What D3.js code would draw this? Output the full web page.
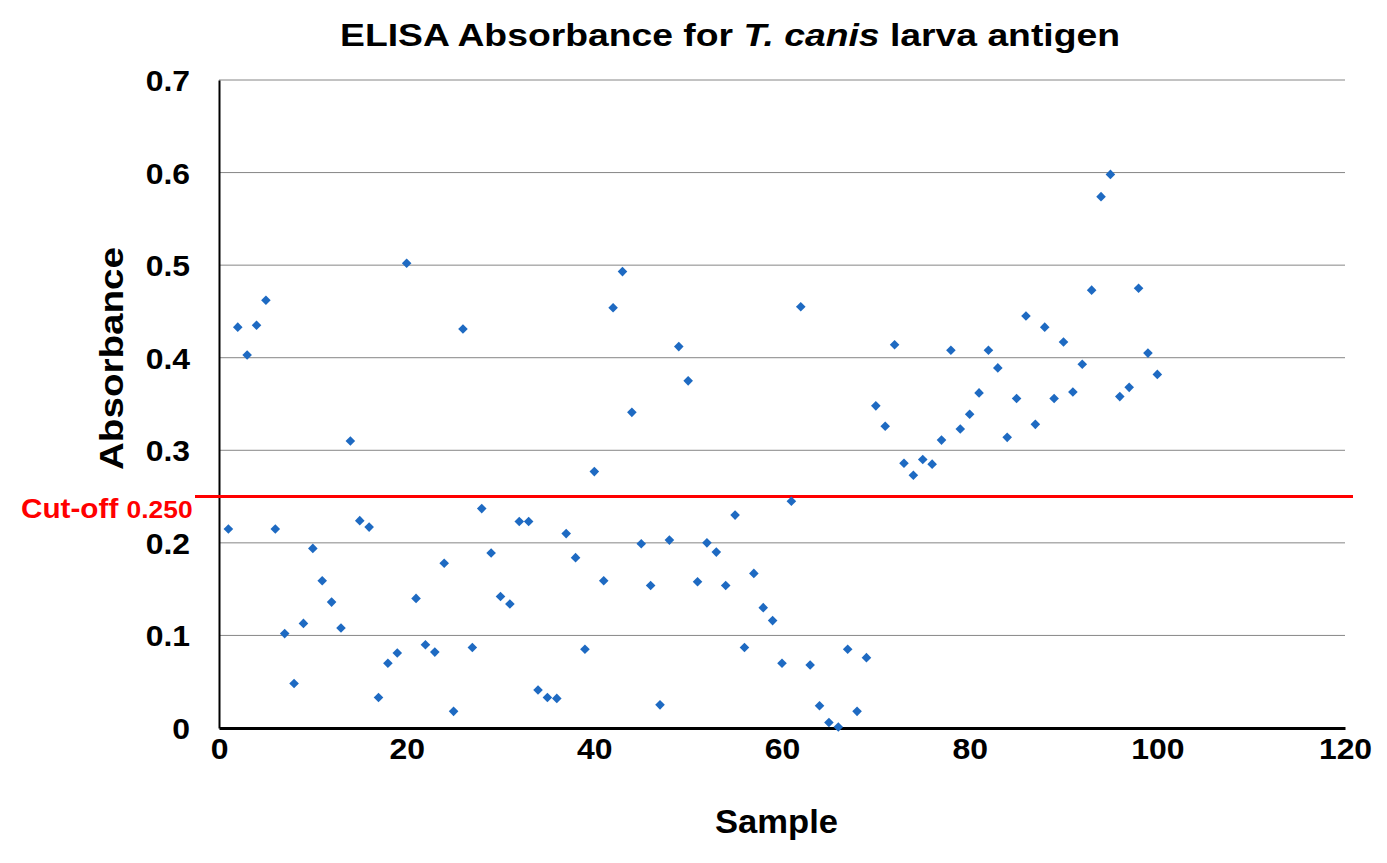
<!DOCTYPE html>
<html><head><meta charset="utf-8">
<script src="https://cdn.jsdelivr.net/npm/d3@7"></script>
<style>body{margin:0;background:#fff}svg{display:block}text{font-family:"Liberation Sans",Arial,sans-serif;font-weight:bold}</style>
</head><body>
<script>
const samples = d3.range(1, 101);
const absorbance = [
0.215,0.433,0.403,0.435,0.462,0.215,0.102,0.048,0.113,0.194,
0.159,0.136,0.108,0.310,0.224,0.217,0.033,0.070,0.081,0.502,
0.140,0.090,0.082,0.178,0.018,0.431,0.087,0.237,0.189,0.142,
0.134,0.223,0.223,0.041,0.033,0.032,0.210,0.184,0.085,0.277,
0.159,0.454,0.493,0.341,0.199,0.154,0.025,0.203,0.412,0.375,
0.158,0.200,0.190,0.154,0.230,0.087,0.167,0.130,0.116,0.070,
0.245,0.455,0.068,0.024,0.006,0.001,0.085,0.018,0.076,0.348,
0.326,0.414,0.286,0.273,0.290,0.285,0.311,0.408,0.323,0.339,
0.362,0.408,0.389,0.314,0.356,0.445,0.328,0.433,0.356,0.417,
0.363,0.393,0.473,0.574,0.598,0.358,0.368,0.475,0.405,0.382];
const xTicks = [0,20,40,60,80,100,120];
const yTicks = [0,0.1,0.2,0.3,0.4,0.5,0.6,0.7];
const yTickLabels = ["0","0.1","0.2","0.3","0.4","0.5","0.6","0.7"];
const cutoff = 0.250;

const W = 1387, H = 863;
const SX = 1.1;
const svg = d3.select("body").append("svg").attr("width", W).attr("height", H);
const x = d3.scaleLinear().domain([0,120]).range([219,1345]);
const y = d3.scaleLinear().domain([0,0.7]).range([728,80]);

// gridlines
svg.append("g").selectAll("line").data(yTicks.filter(d=>d>0)).join("line")
  .attr("x1", x(0)).attr("x2", x(120)).attr("y1", d=>y(d)).attr("y2", d=>y(d))
  .attr("stroke", "#868686").attr("stroke-width", 1);

// y axis
const yAxis = d3.axisLeft(y).tickValues(yTicks).tickSize(0).tickPadding(0)
  .tickFormat((d,i)=>yTickLabels[i]);
const gy = svg.append("g").attr("transform", `translate(${x(0)},0)`).call(yAxis);
gy.select(".domain").attr("stroke", "#000").attr("stroke-width", 2);
gy.selectAll(".tick text").attr("x", null).attr("dy", "0.36em").attr("font-size", 29).attr("fill", "#000")
  .attr("transform", `translate(-29,0) scale(${SX},1)`);

// x axis
const xAxis = d3.axisBottom(x).tickValues(xTicks).tickSize(0).tickPadding(0).tickFormat(d3.format("d"));
const gx = svg.append("g").attr("transform", `translate(0,${y(0)})`).call(xAxis);
gx.select(".domain").attr("stroke", "#000").attr("stroke-width", 3);
gx.selectAll(".tick text").attr("y", null).attr("dy", null).attr("font-size", 29).attr("fill", "#000")
  .attr("transform", `translate(0,31) scale(${SX},1)`);

// cutoff line
svg.append("line").attr("x1", 195).attr("x2", 1353).attr("y1", y(cutoff)).attr("y2", y(cutoff))
  .attr("stroke", "#ff0000").attr("stroke-width", 3);
const ct = svg.append("text").attr("transform", `translate(21,${y(cutoff)+21}) scale(${SX},1)`).attr("fill", "#ff0000");
ct.append("tspan").attr("font-size", 27).text("Cut-off ");
ct.append("tspan").attr("font-size", 24).text(cutoff.toFixed(3));

// points
const r = 4.8;
svg.append("g").selectAll("path").data(samples).join("path")
  .attr("transform", (d,i)=>`translate(${x(d)},${y(absorbance[i])})`)
  .attr("d", `M0,${-r}L${r},0L0,${r}L${-r},0Z`)
  .attr("fill", "#1e6ac2");

// title
const t = svg.append("text").attr("x", 340).attr("y", 46).attr("font-size", 32).attr("fill", "#000")
  .attr("textLength", 780).attr("lengthAdjust", "spacingAndGlyphs");
t.append("tspan").text("ELISA Absorbance for ");
t.append("tspan").attr("font-style", "italic").text("T. canis");
t.append("tspan").text(" larva antigen");

// axis titles
svg.append("text").attr("x", 715).attr("y", 833).attr("font-size", 33).attr("fill", "#000")
  .attr("textLength", 123).attr("lengthAdjust", "spacingAndGlyphs").text("Sample");
svg.append("text").attr("transform", "translate(123,470) rotate(-90)").attr("font-size", 33).attr("fill", "#000")
  .attr("textLength", 223).attr("lengthAdjust", "spacingAndGlyphs").text("Absorbance");
</script>
</body></html>
